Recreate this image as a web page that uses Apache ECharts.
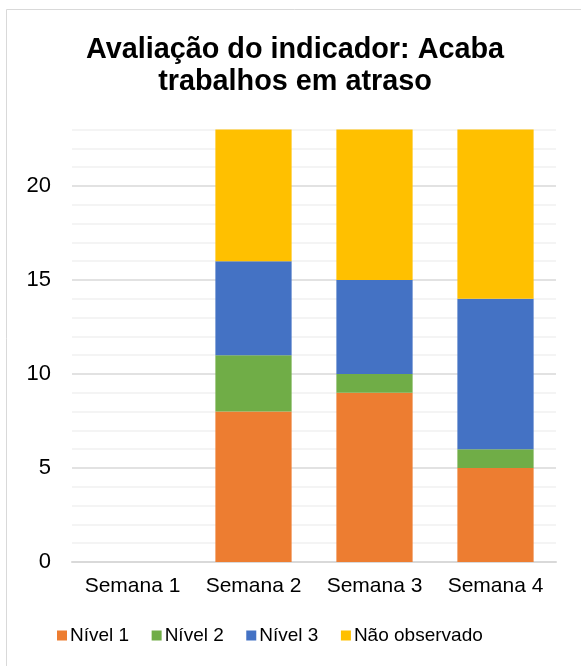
<!DOCTYPE html>
<html>
<head>
<meta charset="utf-8">
<script src="https://cdn.jsdelivr.net/npm/echarts@6/dist/echarts.min.js"></script>
<style>
html,body{margin:0;padding:0;background:#fff;}
#chart{width:581px;height:666px;}
</style>
</head>
<body>
<div id="chart"></div>
<script>
const titleText = 'Avaliação do indicador: Acaba\ntrabalhos em atraso';
const categories = ['Semana 1', 'Semana 2', 'Semana 3', 'Semana 4'];
const seriesNames = ['Nível 1', 'Nível 2', 'Nível 3', 'Não observado'];
const nivel1 = [0, 8, 9, 5];
const nivel2 = [0, 3, 1, 1];
const nivel3 = [0, 5, 5, 8];
const naoObservado = [0, 7, 8, 9];
const yMax = 23;
const yLabelStep = 5;
const colors = ['#ED7D31', '#70AD47', '#4472C4', '#FFC000'];

const chart = echarts.init(document.getElementById('chart'), null, {renderer: 'canvas'});
const allData = [nivel1, nivel2, nivel3, naoObservado];
const font = '"Liberation Sans", Arial, sans-serif';

chart.setOption({
  animation: false,
  backgroundColor: '#fff',
  color: colors,
  graphic: [{
    type: 'rect',
    shape: {x: 6.5, y: 9.5, width: 800, height: 900},
    style: {fill: 'none', stroke: '#D9D9D9', lineWidth: 1},
    z: -10, silent: true
  }],
  title: {
    text: titleText,
    left: 290,
    top: 29,
    textAlign: 'center',
    textStyle: {fontFamily: font, fontSize: 28.8, fontWeight: 'bold', color: '#000', lineHeight: 32}
  },
  legend: {
    data: seriesNames,
    left: 52,
    top: 621,
    itemWidth: 10,
    itemHeight: 10,
    itemGap: 22.5,
    icon: 'rect',
    textStyle: {fontFamily: font, fontSize: 19, color: '#000', padding: [0,0,0,-2]}
  },
  grid: {left: 72, right: 25, top: 129.5, bottom: 104, containLabel: false},
  xAxis: {
    type: 'category',
    data: categories,
    axisLine: {show: true, lineStyle: {color: '#D9D9D9', width: 2}},
    axisTick: {show: false},
    axisLabel: {fontFamily: font, fontSize: 21, color: '#000', margin: 14, interval: 0}
  },
  yAxis: {
    type: 'value',
    min: 0,
    max: yMax,
    interval: 1,
    axisLine: {show: false},
    axisTick: {show: false},
    axisLabel: {
      fontFamily: font, fontSize: 22, color: '#000', margin: 21,
      formatter: v => (v % yLabelStep === 0 ? String(v) : '')
    },
    splitLine: {show: true, lineStyle: {color: ['#D9D9D9', '#F0F0F0', '#F0F0F0', '#F0F0F0', '#F0F0F0'], width: 1.5}}
  },
  series: seriesNames.map((name, i) => ({
    name: name,
    type: 'bar',
    stack: 'total',
    barWidth: '63%',
    data: allData[i],
    itemStyle: {color: colors[i]}
  }))
});
</script>
</body>
</html>
